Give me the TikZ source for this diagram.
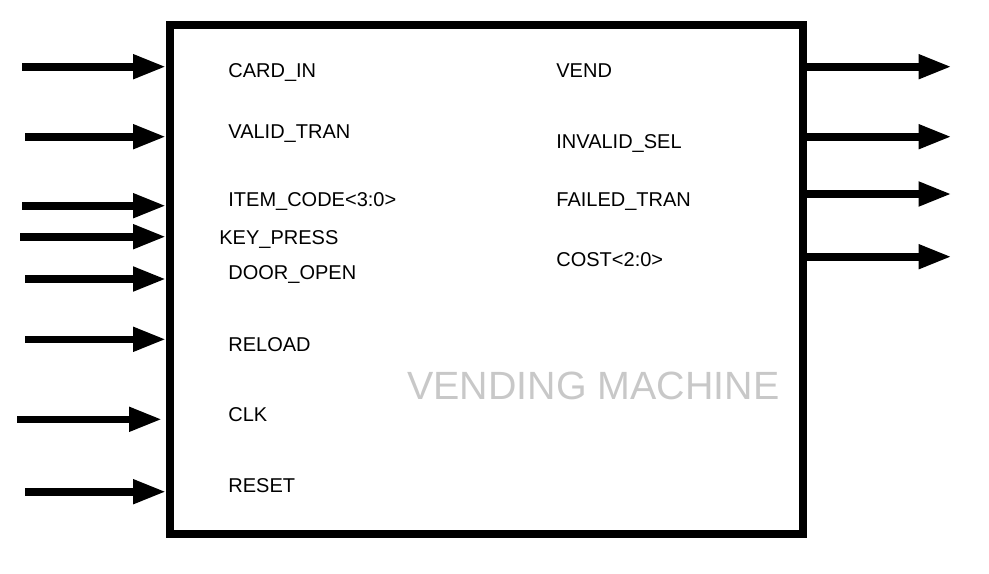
\documentclass[tikz,border=0pt]{standalone}
\usepackage{fontspec}
\setsansfont{Liberation Sans}
\usetikzlibrary{arrows.meta}
\definecolor{cpale}{HTML}{C8C8C8}
\tikzset{
  every picture/.style={font=\sffamily},
  block/.style={draw, line width=4pt, inner sep=0pt, minimum width=316.5pt, minimum height=254.75pt},
  sig/.style={-{Triangle[length=16.5pt, width=11.5pt]}, line width=3.8pt},
  port/.style={anchor=base west, inner sep=0pt, font=\sffamily\fontsize{10}{12}\selectfont},
  title/.style={anchor=base west, inner sep=0pt, text=cpale, font=\sffamily\fontsize{19.7}{22}\selectfont},
}
\begin{document}
\begin{tikzpicture}[x=0.5pt, y=-0.5pt]
  \useasboundingbox (0,0) rectangle (989,573);
  \node[block] (vm) at (486.5,279.25) {};
  % input ports
  \node[port] (cardin) at (228,77.5) {CARD\_IN};
  \node[port] (validtran) at (228,138) {VALID\_TRAN};
  \node[port] (itemcode) at (228,206.5) {ITEM\_CODE<3:0>};
  \node[port] (keypress) at (219,244) {KEY\_PRESS};
  \node[port] (dooropen) at (228,279) {DOOR\_OPEN};
  \node[port] (reload) at (228,351.5) {RELOAD};
  \node[port] (clk) at (228,421.5) {CLK};
  \node[port] (reset) at (228,492) {RESET};
  % output ports
  \node[port] (vend) at (556,77.5) {VEND};
  \node[port] (invalidsel) at (556,148) {INVALID\_SEL};
  \node[port] (failedtran) at (556,206) {FAILED\_TRAN};
  \node[port] (cost) at (556,266.5) {COST<2:0>};
  \node[title] (name) at (407,399.3) {VENDING MACHINE};
  % free ends of the wires
  \coordinate (incardin) at (22,66.7);
  \coordinate (invalidtran) at (25,136.7);
  \coordinate (initemcode) at (22,205.7);
  \coordinate (inkeypress) at (20,236.7);
  \coordinate (indooropen) at (25,279);
  \coordinate (inreload) at (25,339.3);
  \coordinate (inclk) at (17,419.3);
  \coordinate (inreset) at (25,491.7);
  \coordinate (outvend) at (951.5,66.7);
  \coordinate (outinvalidsel) at (951.5,136.7);
  \coordinate (outfailedtran) at (951.5,194);
  \coordinate (outcost) at (951.5,256.7);
  \draw[sig] (incardin) -- (incardin -| vm.west);
  \draw[sig] (invalidtran) -- (invalidtran -| vm.west);
  \draw[sig] (initemcode) -- (initemcode -| vm.west);
  \draw[sig] (inkeypress) -- (inkeypress -| vm.west);
  \draw[sig] (indooropen) -- (indooropen -| vm.west);
  \draw[sig] (inreload) -- (inreload -| vm.west);
  \draw[sig] (inclk) -- ([xshift=-2pt]inclk -| vm.west);
  \draw[sig] (inreset) -- (inreset -| vm.west);
  \draw[sig] (vm.east |- outvend) -- (outvend);
  \draw[sig] (vm.east |- outinvalidsel) -- (outinvalidsel);
  \draw[sig] (vm.east |- outfailedtran) -- (outfailedtran);
  \draw[sig] (vm.east |- outcost) -- (outcost);
\end{tikzpicture}
\end{document}
